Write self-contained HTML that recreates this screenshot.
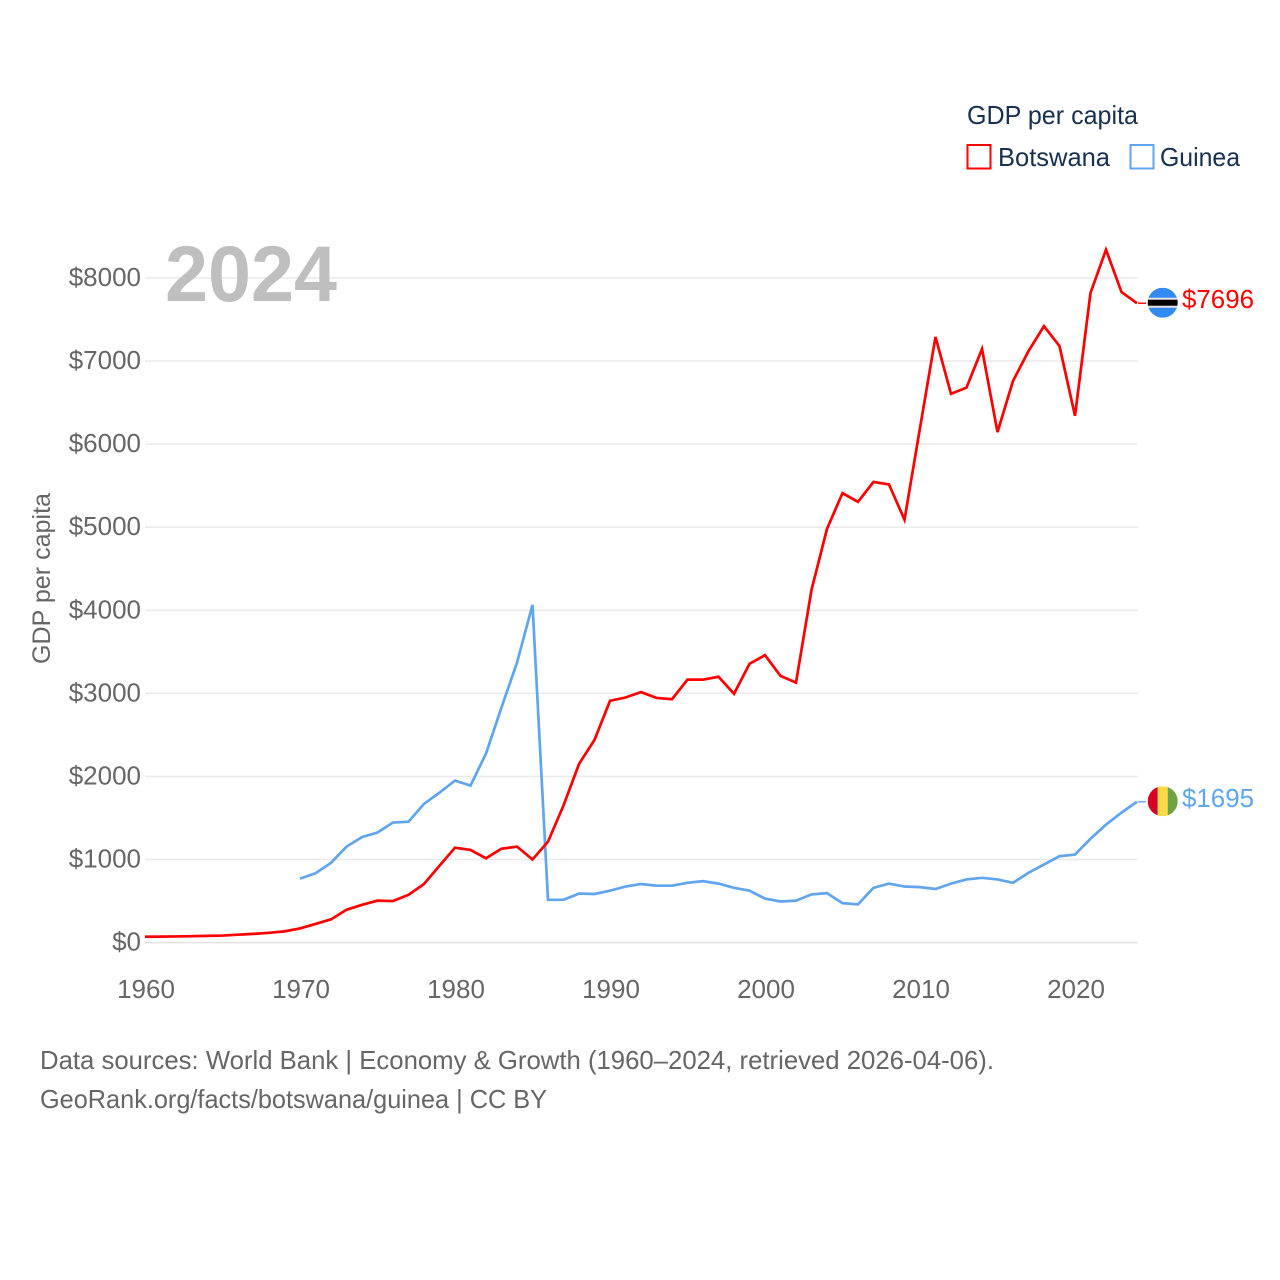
<!DOCTYPE html>
<html lang="en">
<head>
<meta charset="utf-8">
<title>GDP per capita: Botswana and Guinea</title>
<style>
html,body{margin:0;padding:0;background:#fff;width:1280px;height:1280px;overflow:hidden}
svg{display:block}
text{font-family:"Liberation Sans",sans-serif}
</style>
</head>
<body>
<svg id="chart" xmlns="http://www.w3.org/2000/svg" width="1280" height="1280" viewBox="0 0 1280 1280">
  <rect width="1280" height="1280" fill="#fff"/>
  <g id="grid"></g>
  <g id="yticks"></g>
  <g id="xticks"></g>
  <text x="165" y="301" font-size="79" font-weight="700" fill="#bfbfbf" textLength="172" lengthAdjust="spacingAndGlyphs">2024</text>
  <text transform="translate(50,664) rotate(-90)" font-size="25" fill="#666666" textLength="171" lengthAdjust="spacingAndGlyphs">GDP per capita</text>
  <g id="series"></g>
  <g id="endmarks"></g>
  <defs>
    <clipPath id="flag-clip"><circle cx="0" cy="0" r="15"/></clipPath>
  </defs>
  <g>
    <text x="967" y="124" font-size="26" fill="#18304f" textLength="171" lengthAdjust="spacingAndGlyphs">GDP per capita</text>
    <g>
      <rect x="967.5" y="145" width="23" height="23.5" fill="none" stroke="#ff0000" stroke-width="2"/>
      <text x="998" y="166" font-size="26" fill="#18304f" textLength="112" lengthAdjust="spacingAndGlyphs">Botswana</text>
    </g>
    <g>
      <rect x="1130.5" y="145" width="23" height="23.5" fill="none" stroke="#60a5ee" stroke-width="2"/>
      <text x="1160" y="166" font-size="26" fill="#18304f" textLength="80" lengthAdjust="spacingAndGlyphs">Guinea</text>
    </g>
  </g>
  <text x="40" y="1069" font-size="26" fill="#666666" textLength="954" lengthAdjust="spacingAndGlyphs">Data sources: World Bank | Economy &amp; Growth (1960–2024, retrieved 2026-04-06).</text>
  <text x="40" y="1108" font-size="26" fill="#666666" textLength="507" lengthAdjust="spacingAndGlyphs">GeoRank.org/facts/botswana/guinea | CC BY</text>
</svg>
<script>
const yTickValues = [0, 1000, 2000, 3000, 4000, 5000, 6000, 7000, 8000];
const xTickValues = [1960, 1970, 1980, 1990, 2000, 2010, 2020];
const botswanaStartYear = 1960;
const botswanaValues = [70, 72, 74, 77, 81, 85, 95, 105, 118, 135, 170, 225, 280, 395, 455, 505, 500, 575, 705, 925,
  1143, 1115, 1015, 1130, 1155, 1000, 1215, 1650, 2150, 2440, 2910, 2950, 3015, 2945, 2930, 3165, 3165, 3200, 2995, 3355,
  3460, 3210, 3130, 4245, 4980, 5410, 5305, 5545, 5515, 5090, 6195, 7290, 6605, 6680, 7145, 6145, 6760, 7120, 7420, 7180,
  6340, 7820, 8340, 7830, 7696];
const guineaStartYear = 1970;
const guineaValues = [770, 835, 960, 1155, 1270, 1325, 1445, 1455, 1670, 1805,
  1950, 1890, 2275, 2830, 3370, 4065, 515, 515, 590, 585, 625, 675, 705, 685, 685, 720, 740, 710, 660, 625,
  530, 495, 505, 580, 595, 475, 460, 660, 710, 675, 668, 645, 710, 760, 780, 760, 720, 840, 940, 1040,
  1060, 1250, 1420, 1565, 1695];

const NS = 'http://www.w3.org/2000/svg';
const plot = { x0: 145, x1: 1138, y0: 942.6, pxPerYear: 15.5, pxPerDollar: 0.08308 };
const xScale = year => plot.x0 + (year - 1960) * plot.pxPerYear;
const yScale = value => plot.y0 - value * plot.pxPerDollar;

function make(tag, parent, attrs, text) {
  const el = document.createElementNS(NS, tag);
  for (const k in attrs) el.setAttribute(k, attrs[k]);
  if (text !== undefined) el.textContent = text;
  parent.appendChild(el);
  return el;
}

const grid = document.getElementById('grid');
const yticks = document.getElementById('yticks');
const xticks = document.getElementById('xticks');
const series = document.getElementById('series');
const endmarks = document.getElementById('endmarks');

yTickValues.forEach(v => {
  const line = make('line', grid, { x1: plot.x0, x2: plot.x1, y1: yScale(v), y2: yScale(v), stroke: v === 0 ? '#e2e2e2' : '#ebebeb', 'stroke-width': 1.6 });
  
  
  const label = make('text', yticks, { x: 141, y: yScale(v) + 8, 'text-anchor': 'end', 'font-size': 26, fill: '#666666' }, '$' + v);
  
  
});

xTickValues.forEach(yr => {
  const label = make('text', xticks, { x: xScale(yr) + 1, y: 998, 'text-anchor': 'middle', 'font-size': 26, fill: '#666666' }, String(yr));
  
  
});

function pathFor(values, startYear) {
  return values.map((v, i) => (i ? 'L' : 'M') + xScale(startYear + i).toFixed(2) + ' ' + yScale(v).toFixed(2)).join(' ');
}

const guineaLine = make('path', series, { d: pathFor(guineaValues, guineaStartYear), fill: 'none', stroke: '#60a5ee', 'stroke-width': 2.7, 'stroke-linejoin': 'miter' });



const botswanaLine = make('path', series, { d: pathFor(botswanaValues, botswanaStartYear), fill: 'none', stroke: '#ff0000', 'stroke-width': 2.7, 'stroke-linejoin': 'miter' });



function endParts(values, color) {
  const last = values[values.length - 1];
  const y = yScale(last);
  const leader = make('line', endmarks, { x1: plot.x1, x2: 1146, y1: y, y2: y, stroke: color, 'stroke-width': 1.4 });
  const flag = make('g', endmarks, { transform: 'translate(1162.7,' + (y - 0.5) + ')', 'clip-path': 'url(#flag-clip)' });
  const label = make('text', endmarks, { x: 1182, y: y + 5, 'font-size': 26, fill: color, textLength: 72, lengthAdjust: 'spacingAndGlyphs' }, '$' + last);
  return { leader, flag, label };
}

const bw = endParts(botswanaValues, '#ff0000');






make('rect', bw.flag, { x: -15, y: -15, width: 30, height: 30, fill: '#338af3' });
make('rect', bw.flag, { x: -15, y: -5, width: 30, height: 10, fill: '#e6e6e6' });
make('rect', bw.flag, { x: -15, y: -3, width: 30, height: 6, fill: '#000000' });

const gn = endParts(guineaValues, '#60a5ee');






make('rect', gn.flag, { x: -15, y: -15, width: 10, height: 30, fill: '#d80027' });
make('rect', gn.flag, { x: -5, y: -15, width: 10, height: 30, fill: '#ffda44' });
make('rect', gn.flag, { x: 5, y: -15, width: 10, height: 30, fill: '#6da544' });
</script>
</body>
</html>
